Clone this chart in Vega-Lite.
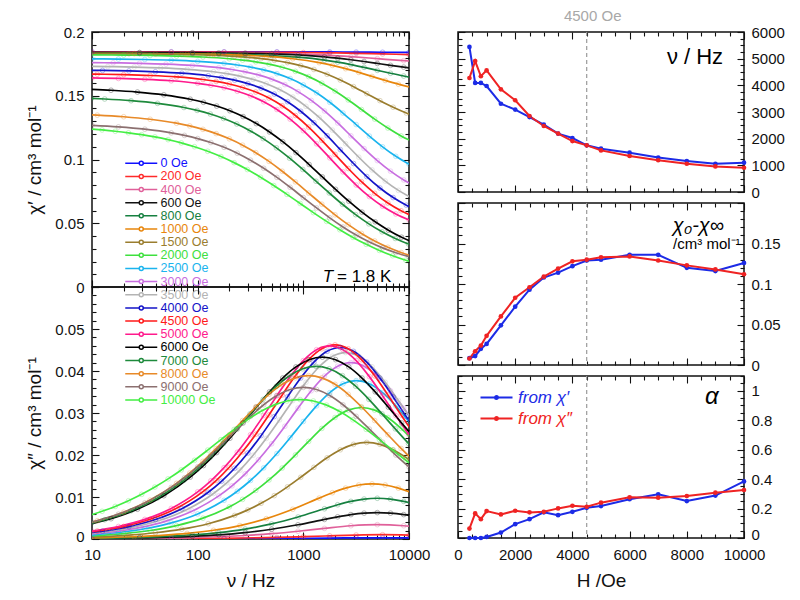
{
"$schema":"https://vega.github.io/schema/vega-lite/v6.json",
"background":"white",
"padding":{"left":25,"top":8,"right":4,"bottom":4},
"config":{
 "font":"Liberation Sans",
 "view":{"stroke":"#111","strokeWidth":1.5},
 "axis":{"domain":false,"grid":false,"tickColor":"#111","tickWidth":1.1,"labelFont":"Liberation Sans","labelFontSize":15,"labelColor":"#111","titleFont":"Liberation Sans","titleFontSize":19,"titleFontWeight":"normal","titleColor":"#111","labelPadding":11,"labelFlush":false,"labelOverlap":false},
 "text":{"font":"Liberation Sans"}
},
"datasets":{
"fit":[
{"H":"0 Oe","f":1,"a":0.1845,"b":0.000005},{"H":"0 Oe","f":1.75,"a":0.18449,"b":0.00002},{"H":"0 Oe","f":2.25,"a":0.18448,"b":0.00005},{"H":"0 Oe","f":2.75,"a":0.18445,"b":0.00011},{"H":"0 Oe","f":3.25,"a":0.18434,"b":0.00022},{"H":"0 Oe","f":3.5,"a":0.18423,"b":0.00027},{"H":"0 Oe","f":3.75,"a":0.1841,"b":0.00029},{"H":"0 Oe","f":4,"a":0.18397,"b":0.00027},
{"H":"200 Oe","f":1,"a":0.18419,"b":0.00002},{"H":"200 Oe","f":1.75,"a":0.18418,"b":0.00007},{"H":"200 Oe","f":2.25,"a":0.18414,"b":0.00016},{"H":"200 Oe","f":2.75,"a":0.18402,"b":0.00038},{"H":"200 Oe","f":3,"a":0.18388,"b":0.00055},{"H":"200 Oe","f":3.25,"a":0.18364,"b":0.00075},{"H":"200 Oe","f":3.5,"a":0.18327,"b":0.00094},{"H":"200 Oe","f":3.75,"a":0.1828,"b":0.00102},{"H":"200 Oe","f":4,"a":0.18233,"b":0.00094},
{"H":"400 Oe","f":0.95,"a":0.18378,"b":0.00006},{"H":"400 Oe","f":1.45,"a":0.18375,"b":0.00014},{"H":"400 Oe","f":1.95,"a":0.18367,"b":0.00035},{"H":"400 Oe","f":2.45,"a":0.18344,"b":0.00083},{"H":"400 Oe","f":2.7,"a":0.18318,"b":0.00126},{"H":"400 Oe","f":2.95,"a":0.18271,"b":0.00184},{"H":"400 Oe","f":3.2,"a":0.18192,"b":0.00253},{"H":"400 Oe","f":3.45,"a":0.18068,"b":0.00316},{"H":"400 Oe","f":3.7,"a":0.1791,"b":0.00342},{"H":"400 Oe","f":3.95,"a":0.17752,"b":0.00316},{"H":"400 Oe","f":4.075,"a":0.17685,"b":0.00287},
{"H":"600 Oe","f":0.95,"a":0.18397,"b":0.000103},{"H":"600 Oe","f":1.45,"a":0.18391,"b":0.000258},{"H":"600 Oe","f":1.95,"a":0.18377,"b":0.000638},{"H":"600 Oe","f":2.2,"a":0.18361,"b":0.000995},{"H":"600 Oe","f":2.45,"a":0.18334,"b":0.001535},{"H":"600 Oe","f":2.7,"a":0.18286,"b":0.002322},{"H":"600 Oe","f":2.95,"a":0.182,"b":0.003392},{"H":"600 Oe","f":3.2,"a":0.18053,"b":0.004664},{"H":"600 Oe","f":3.325,"a":0.1795,"b":0.005283},{"H":"600 Oe","f":3.45,"a":0.17826,"b":0.005806},{"H":"600 Oe","f":3.575,"a":0.17685,"b":0.006159},{"H":"600 Oe","f":3.7,"a":0.17535,"b":0.006285},{"H":"600 Oe","f":3.825,"a":0.17385,"b":0.006159},{"H":"600 Oe","f":3.95,"a":0.17244,"b":0.005806},{"H":"600 Oe","f":4.075,"a":0.1712,"b":0.005283},
{"H":"800 Oe","f":0.95,"a":0.18325,"b":0.00016},{"H":"800 Oe","f":1.45,"a":0.18316,"b":0.000398},{"H":"800 Oe","f":1.95,"a":0.18294,"b":0.000985},{"H":"800 Oe","f":2.2,"a":0.1827,"b":0.001536},{"H":"800 Oe","f":2.45,"a":0.18228,"b":0.002369},{"H":"800 Oe","f":2.7,"a":0.18154,"b":0.003583},{"H":"800 Oe","f":2.95,"a":0.18022,"b":0.005235},{"H":"800 Oe","f":3.2,"a":0.17795,"b":0.007198},{"H":"800 Oe","f":3.325,"a":0.17635,"b":0.008153},{"H":"800 Oe","f":3.45,"a":0.17444,"b":0.008961},{"H":"800 Oe","f":3.575,"a":0.17227,"b":0.009506},{"H":"800 Oe","f":3.7,"a":0.16995,"b":0.009699},{"H":"800 Oe","f":3.825,"a":0.16763,"b":0.009506},{"H":"800 Oe","f":3.95,"a":0.16546,"b":0.008961},{"H":"800 Oe","f":4.075,"a":0.16355,"b":0.008153},
{"H":"1000 Oe","f":0.9,"a":0.18313,"b":0.000216},{"H":"1000 Oe","f":1.4,"a":0.18302,"b":0.000539},{"H":"1000 Oe","f":1.9,"a":0.18271,"b":0.001332},{"H":"1000 Oe","f":2.15,"a":0.18239,"b":0.002077},{"H":"1000 Oe","f":2.4,"a":0.18182,"b":0.003203},{"H":"1000 Oe","f":2.65,"a":0.18082,"b":0.004845},{"H":"1000 Oe","f":2.9,"a":0.17903,"b":0.007078},{"H":"1000 Oe","f":3.15,"a":0.17596,"b":0.009731},{"H":"1000 Oe","f":3.275,"a":0.17381,"b":0.011024},{"H":"1000 Oe","f":3.4,"a":0.17123,"b":0.012115},{"H":"1000 Oe","f":3.525,"a":0.16829,"b":0.012853},{"H":"1000 Oe","f":3.65,"a":0.16515,"b":0.013114},{"H":"1000 Oe","f":3.775,"a":0.16201,"b":0.012853},{"H":"1000 Oe","f":3.9,"a":0.15907,"b":0.012115},{"H":"1000 Oe","f":4.025,"a":0.15649,"b":0.011024},
{"H":"1500 Oe","f":0.975,"a":0.18314,"b":0.000476},{"H":"1500 Oe","f":1.35,"a":0.18298,"b":0.000944},{"H":"1500 Oe","f":1.6,"a":0.18278,"b":0.001488},{"H":"1500 Oe","f":1.85,"a":0.18244,"b":0.002336},{"H":"1500 Oe","f":2.1,"a":0.18188,"b":0.003642},{"H":"1500 Oe","f":2.35,"a":0.18088,"b":0.005617},{"H":"1500 Oe","f":2.475,"a":0.18013,"b":0.00693},{"H":"1500 Oe","f":2.6,"a":0.17912,"b":0.008496},{"H":"1500 Oe","f":2.725,"a":0.17778,"b":0.010327},{"H":"1500 Oe","f":2.85,"a":0.17599,"b":0.012412},{"H":"1500 Oe","f":2.975,"a":0.17364,"b":0.014696},{"H":"1500 Oe","f":3.1,"a":0.17061,"b":0.017064},{"H":"1500 Oe","f":3.225,"a":0.16683,"b":0.01933},{"H":"1500 Oe","f":3.35,"a":0.1623,"b":0.021243},{"H":"1500 Oe","f":3.475,"a":0.15715,"b":0.022537},{"H":"1500 Oe","f":3.6,"a":0.15165,"b":0.022995},{"H":"1500 Oe","f":3.725,"a":0.14615,"b":0.022537},{"H":"1500 Oe","f":3.85,"a":0.141,"b":0.021243},{"H":"1500 Oe","f":3.975,"a":0.13647,"b":0.01933},{"H":"1500 Oe","f":4.1,"a":0.13269,"b":0.017064},
{"H":"2000 Oe","f":0.925,"a":0.18208,"b":0.000648},{"H":"2000 Oe","f":1.3,"a":0.18186,"b":0.001286},{"H":"2000 Oe","f":1.55,"a":0.18159,"b":0.002027},{"H":"2000 Oe","f":1.8,"a":0.18113,"b":0.003181},{"H":"2000 Oe","f":2.05,"a":0.1804,"b":0.00496},{"H":"2000 Oe","f":2.3,"a":0.17901,"b":0.007649},{"H":"2000 Oe","f":2.425,"a":0.17798,"b":0.009437},{"H":"2000 Oe","f":2.55,"a":0.17661,"b":0.011569},{"H":"2000 Oe","f":2.675,"a":0.1748,"b":0.014064},{"H":"2000 Oe","f":2.8,"a":0.17234,"b":0.016902},{"H":"2000 Oe","f":2.925,"a":0.16914,"b":0.020012},{"H":"2000 Oe","f":3.05,"a":0.16502,"b":0.023237},{"H":"2000 Oe","f":3.175,"a":0.15988,"b":0.026323},{"H":"2000 Oe","f":3.3,"a":0.15371,"b":0.028929},{"H":"2000 Oe","f":3.425,"a":0.1467,"b":0.03069},{"H":"2000 Oe","f":3.55,"a":0.1392,"b":0.031314},{"H":"2000 Oe","f":3.675,"a":0.1317,"b":0.03069},{"H":"2000 Oe","f":3.8,"a":0.12469,"b":0.028929},{"H":"2000 Oe","f":3.925,"a":0.11852,"b":0.026323},{"H":"2000 Oe","f":4.05,"a":0.11338,"b":0.023237},
{"H":"2500 Oe","f":1,"a":0.17897,"b":0.000981},{"H":"2500 Oe","f":1.25,"a":0.17877,"b":0.001549},{"H":"2500 Oe","f":1.5,"a":0.17844,"b":0.00244},{"H":"2500 Oe","f":1.75,"a":0.1779,"b":0.00383},{"H":"2500 Oe","f":2,"a":0.17696,"b":0.005973},{"H":"2500 Oe","f":2.25,"a":0.17534,"b":0.00921},{"H":"2500 Oe","f":2.375,"a":0.1741,"b":0.011364},{"H":"2500 Oe","f":2.5,"a":0.17245,"b":0.013931},{"H":"2500 Oe","f":2.625,"a":0.17024,"b":0.016935},{"H":"2500 Oe","f":2.75,"a":0.16731,"b":0.020353},{"H":"2500 Oe","f":2.875,"a":0.16346,"b":0.024098},{"H":"2500 Oe","f":3,"a":0.1585,"b":0.027981},{"H":"2500 Oe","f":3.125,"a":0.1523,"b":0.031697},{"H":"2500 Oe","f":3.25,"a":0.14487,"b":0.034835},{"H":"2500 Oe","f":3.375,"a":0.13643,"b":0.036956},{"H":"2500 Oe","f":3.5,"a":0.1274,"b":0.037707},{"H":"2500 Oe","f":3.625,"a":0.11837,"b":0.036956},{"H":"2500 Oe","f":3.75,"a":0.10993,"b":0.034835},{"H":"2500 Oe","f":3.875,"a":0.1025,"b":0.031697},{"H":"2500 Oe","f":4,"a":0.0963,"b":0.027981},
{"H":"3000 Oe","f":0.95,"a":0.17603,"b":0.001092},{"H":"3000 Oe","f":1.2,"a":0.17581,"b":0.001725},{"H":"3000 Oe","f":1.45,"a":0.17545,"b":0.002718},{"H":"3000 Oe","f":1.7,"a":0.17484,"b":0.004266},{"H":"3000 Oe","f":1.95,"a":0.1738,"b":0.006652},{"H":"3000 Oe","f":2.2,"a":0.17199,"b":0.010257},{"H":"3000 Oe","f":2.325,"a":0.17061,"b":0.012656},{"H":"3000 Oe","f":2.45,"a":0.16877,"b":0.015515},{"H":"3000 Oe","f":2.575,"a":0.16632,"b":0.01886},{"H":"3000 Oe","f":2.7,"a":0.16305,"b":0.022667},{"H":"3000 Oe","f":2.825,"a":0.15876,"b":0.026838},{"H":"3000 Oe","f":2.95,"a":0.15323,"b":0.031162},{"H":"3000 Oe","f":3.075,"a":0.14633,"b":0.035301},{"H":"3000 Oe","f":3.2,"a":0.13806,"b":0.038795},{"H":"3000 Oe","f":3.325,"a":0.12865,"b":0.041157},{"H":"3000 Oe","f":3.45,"a":0.1186,"b":0.041994},{"H":"3000 Oe","f":3.575,"a":0.10855,"b":0.041157},{"H":"3000 Oe","f":3.7,"a":0.09914,"b":0.038795},{"H":"3000 Oe","f":3.825,"a":0.09087,"b":0.035301},{"H":"3000 Oe","f":3.95,"a":0.08397,"b":0.031162},{"H":"3000 Oe","f":4.075,"a":0.07844,"b":0.026838},
{"H":"3500 Oe","f":0.9,"a":0.17311,"b":0.001155},{"H":"3500 Oe","f":1.15,"a":0.17288,"b":0.001823},{"H":"3500 Oe","f":1.4,"a":0.17249,"b":0.002873},{"H":"3500 Oe","f":1.65,"a":0.17185,"b":0.004509},{"H":"3500 Oe","f":1.9,"a":0.17075,"b":0.007031},{"H":"3500 Oe","f":2.15,"a":0.16884,"b":0.010843},{"H":"3500 Oe","f":2.275,"a":0.16738,"b":0.013378},{"H":"3500 Oe","f":2.4,"a":0.16544,"b":0.0164},{"H":"3500 Oe","f":2.525,"a":0.16284,"b":0.019937},{"H":"3500 Oe","f":2.65,"a":0.15939,"b":0.023961},{"H":"3500 Oe","f":2.775,"a":0.15485,"b":0.02837},{"H":"3500 Oe","f":2.9,"a":0.14901,"b":0.032941},{"H":"3500 Oe","f":3.025,"a":0.14171,"b":0.037316},{"H":"3500 Oe","f":3.15,"a":0.13297,"b":0.04101},{"H":"3500 Oe","f":3.275,"a":0.12303,"b":0.043507},{"H":"3500 Oe","f":3.4,"a":0.1124,"b":0.044392},{"H":"3500 Oe","f":3.525,"a":0.10177,"b":0.043507},{"H":"3500 Oe","f":3.65,"a":0.09183,"b":0.04101},{"H":"3500 Oe","f":3.775,"a":0.08309,"b":0.037316},{"H":"3500 Oe","f":3.9,"a":0.07579,"b":0.032941},{"H":"3500 Oe","f":4.025,"a":0.06995,"b":0.02837},
{"H":"4000 Oe","f":0.975,"a":0.17,"b":0.001491},{"H":"4000 Oe","f":1.1,"a":0.16986,"b":0.001872},{"H":"4000 Oe","f":1.35,"a":0.16946,"b":0.00295},{"H":"4000 Oe","f":1.6,"a":0.1688,"b":0.004631},{"H":"4000 Oe","f":1.85,"a":0.16768,"b":0.007221},{"H":"4000 Oe","f":2.1,"a":0.16571,"b":0.011136},{"H":"4000 Oe","f":2.225,"a":0.16422,"b":0.01374},{"H":"4000 Oe","f":2.35,"a":0.16222,"b":0.016843},{"H":"4000 Oe","f":2.475,"a":0.15955,"b":0.020475},{"H":"4000 Oe","f":2.6,"a":0.156,"b":0.024608},{"H":"4000 Oe","f":2.725,"a":0.15135,"b":0.029136},{"H":"4000 Oe","f":2.85,"a":0.14535,"b":0.033831},{"H":"4000 Oe","f":2.975,"a":0.13785,"b":0.038324},{"H":"4000 Oe","f":3.1,"a":0.12887,"b":0.042118},{"H":"4000 Oe","f":3.225,"a":0.11866,"b":0.044682},{"H":"4000 Oe","f":3.35,"a":0.10775,"b":0.04559},{"H":"4000 Oe","f":3.475,"a":0.09684,"b":0.044682},{"H":"4000 Oe","f":3.6,"a":0.08663,"b":0.042118},{"H":"4000 Oe","f":3.725,"a":0.07765,"b":0.038324},{"H":"4000 Oe","f":3.85,"a":0.07015,"b":0.033831},{"H":"4000 Oe","f":3.975,"a":0.06416,"b":0.029136},{"H":"4000 Oe","f":4.1,"a":0.0595,"b":0.024608},
{"H":"4500 Oe","f":0.925,"a":0.16709,"b":0.001511},{"H":"4500 Oe","f":1.05,"a":0.16695,"b":0.001898},{"H":"4500 Oe","f":1.3,"a":0.16655,"b":0.00299},{"H":"4500 Oe","f":1.55,"a":0.16588,"b":0.004694},{"H":"4500 Oe","f":1.8,"a":0.16474,"b":0.007319},{"H":"4500 Oe","f":2.05,"a":0.16275,"b":0.011286},{"H":"4500 Oe","f":2.175,"a":0.16123,"b":0.013926},{"H":"4500 Oe","f":2.3,"a":0.15921,"b":0.017072},{"H":"4500 Oe","f":2.425,"a":0.1565,"b":0.020753},{"H":"4500 Oe","f":2.55,"a":0.15291,"b":0.024941},{"H":"4500 Oe","f":2.675,"a":0.14819,"b":0.029531},{"H":"4500 Oe","f":2.8,"a":0.14211,"b":0.034289},{"H":"4500 Oe","f":2.925,"a":0.13451,"b":0.038843},{"H":"4500 Oe","f":3.05,"a":0.12541,"b":0.042688},{"H":"4500 Oe","f":3.175,"a":0.11506,"b":0.045287},{"H":"4500 Oe","f":3.3,"a":0.104,"b":0.046208},{"H":"4500 Oe","f":3.425,"a":0.09294,"b":0.045287},{"H":"4500 Oe","f":3.55,"a":0.08259,"b":0.042688},{"H":"4500 Oe","f":3.675,"a":0.07349,"b":0.038843},{"H":"4500 Oe","f":3.8,"a":0.06589,"b":0.034289},{"H":"4500 Oe","f":3.925,"a":0.05982,"b":0.029531},{"H":"4500 Oe","f":4.05,"a":0.05509,"b":0.024941},
{"H":"5000 Oe","f":1,"a":0.16395,"b":0.001889},{"H":"5000 Oe","f":1.25,"a":0.16355,"b":0.002976},{"H":"5000 Oe","f":1.5,"a":0.16289,"b":0.004672},{"H":"5000 Oe","f":1.75,"a":0.16175,"b":0.007285},{"H":"5000 Oe","f":2,"a":0.15977,"b":0.011233},{"H":"5000 Oe","f":2.125,"a":0.15826,"b":0.01386},{"H":"5000 Oe","f":2.25,"a":0.15625,"b":0.016991},{"H":"5000 Oe","f":2.375,"a":0.15356,"b":0.020655},{"H":"5000 Oe","f":2.5,"a":0.14998,"b":0.024824},{"H":"5000 Oe","f":2.625,"a":0.14528,"b":0.029391},{"H":"5000 Oe","f":2.75,"a":0.13923,"b":0.034128},{"H":"5000 Oe","f":2.875,"a":0.13167,"b":0.03866},{"H":"5000 Oe","f":3,"a":0.12261,"b":0.042487},{"H":"5000 Oe","f":3.125,"a":0.11231,"b":0.045073},{"H":"5000 Oe","f":3.25,"a":0.1013,"b":0.04599},{"H":"5000 Oe","f":3.375,"a":0.09029,"b":0.045073},{"H":"5000 Oe","f":3.5,"a":0.07999,"b":0.042487},{"H":"5000 Oe","f":3.625,"a":0.07093,"b":0.03866},{"H":"5000 Oe","f":3.75,"a":0.06338,"b":0.034128},{"H":"5000 Oe","f":3.875,"a":0.05732,"b":0.029391},{"H":"5000 Oe","f":4,"a":0.05262,"b":0.024824},
{"H":"6000 Oe","f":0.93,"a":0.15524,"b":0.003268},{"H":"6000 Oe","f":1.18,"a":0.15432,"b":0.00483},{"H":"6000 Oe","f":1.43,"a":0.15291,"b":0.00709},{"H":"6000 Oe","f":1.68,"a":0.15072,"b":0.010305},{"H":"6000 Oe","f":1.93,"a":0.14728,"b":0.014742},{"H":"6000 Oe","f":2.055,"a":0.14489,"b":0.017482},{"H":"6000 Oe","f":2.18,"a":0.14191,"b":0.020575},{"H":"6000 Oe","f":2.305,"a":0.13821,"b":0.023984},{"H":"6000 Oe","f":2.43,"a":0.13366,"b":0.027633},{"H":"6000 Oe","f":2.555,"a":0.12815,"b":0.031384},{"H":"6000 Oe","f":2.68,"a":0.12158,"b":0.035037},{"H":"6000 Oe","f":2.805,"a":0.11396,"b":0.03833},{"H":"6000 Oe","f":2.93,"a":0.10539,"b":0.040976},{"H":"6000 Oe","f":3.055,"a":0.09607,"b":0.042697},{"H":"6000 Oe","f":3.18,"a":0.08635,"b":0.043294},{"H":"6000 Oe","f":3.305,"a":0.07663,"b":0.042697},{"H":"6000 Oe","f":3.43,"a":0.06731,"b":0.040976},{"H":"6000 Oe","f":3.555,"a":0.05873,"b":0.03833},{"H":"6000 Oe","f":3.68,"a":0.05112,"b":0.035037},{"H":"6000 Oe","f":3.805,"a":0.04455,"b":0.031384},{"H":"6000 Oe","f":3.93,"a":0.03904,"b":0.027633},{"H":"6000 Oe","f":4.055,"a":0.03449,"b":0.023984},
{"H":"7000 Oe","f":0.995,"a":0.14794,"b":0.003774},{"H":"7000 Oe","f":1.12,"a":0.14746,"b":0.004584},{"H":"7000 Oe","f":1.37,"a":0.14612,"b":0.006729},{"H":"7000 Oe","f":1.62,"a":0.14404,"b":0.00978},{"H":"7000 Oe","f":1.87,"a":0.14078,"b":0.013991},{"H":"7000 Oe","f":1.995,"a":0.13851,"b":0.016591},{"H":"7000 Oe","f":2.12,"a":0.13568,"b":0.019526},{"H":"7000 Oe","f":2.245,"a":0.13217,"b":0.022762},{"H":"7000 Oe","f":2.37,"a":0.12785,"b":0.026225},{"H":"7000 Oe","f":2.495,"a":0.12262,"b":0.029785},{"H":"7000 Oe","f":2.62,"a":0.11639,"b":0.033251},{"H":"7000 Oe","f":2.745,"a":0.10916,"b":0.036377},{"H":"7000 Oe","f":2.87,"a":0.10102,"b":0.038888},{"H":"7000 Oe","f":2.995,"a":0.09217,"b":0.040521},{"H":"7000 Oe","f":3.12,"a":0.08295,"b":0.041088},{"H":"7000 Oe","f":3.245,"a":0.07373,"b":0.040521},{"H":"7000 Oe","f":3.37,"a":0.06488,"b":0.038888},{"H":"7000 Oe","f":3.495,"a":0.05674,"b":0.036377},{"H":"7000 Oe","f":3.62,"a":0.04951,"b":0.033251},{"H":"7000 Oe","f":3.745,"a":0.04328,"b":0.029785},{"H":"7000 Oe","f":3.87,"a":0.03805,"b":0.026225},{"H":"7000 Oe","f":3.995,"a":0.03373,"b":0.022762},{"H":"7000 Oe","f":4.12,"a":0.03022,"b":0.019526},
{"H":"8000 Oe","f":0.925,"a":0.13525,"b":0.003574},{"H":"8000 Oe","f":1.05,"a":0.1348,"b":0.004341},{"H":"8000 Oe","f":1.3,"a":0.13353,"b":0.006373},{"H":"8000 Oe","f":1.55,"a":0.13155,"b":0.009262},{"H":"8000 Oe","f":1.8,"a":0.12847,"b":0.01325},{"H":"8000 Oe","f":1.925,"a":0.12632,"b":0.015712},{"H":"8000 Oe","f":2.05,"a":0.12364,"b":0.018492},{"H":"8000 Oe","f":2.175,"a":0.12031,"b":0.021557},{"H":"8000 Oe","f":2.3,"a":0.11622,"b":0.024836},{"H":"8000 Oe","f":2.425,"a":0.11127,"b":0.028208},{"H":"8000 Oe","f":2.55,"a":0.10537,"b":0.031491},{"H":"8000 Oe","f":2.675,"a":0.09852,"b":0.034451},{"H":"8000 Oe","f":2.8,"a":0.09081,"b":0.036829},{"H":"8000 Oe","f":2.925,"a":0.08244,"b":0.038376},{"H":"8000 Oe","f":3.05,"a":0.0737,"b":0.038913},{"H":"8000 Oe","f":3.175,"a":0.06496,"b":0.038376},{"H":"8000 Oe","f":3.3,"a":0.05659,"b":0.036829},{"H":"8000 Oe","f":3.425,"a":0.04888,"b":0.034451},{"H":"8000 Oe","f":3.55,"a":0.04203,"b":0.031491},{"H":"8000 Oe","f":3.675,"a":0.03613,"b":0.028208},{"H":"8000 Oe","f":3.8,"a":0.03118,"b":0.024836},{"H":"8000 Oe","f":3.925,"a":0.02709,"b":0.021557},{"H":"8000 Oe","f":4.05,"a":0.02376,"b":0.018492},
{"H":"9000 Oe","f":1,"a":0.12677,"b":0.004026},{"H":"9000 Oe","f":1.25,"a":0.12559,"b":0.005911},{"H":"9000 Oe","f":1.5,"a":0.12376,"b":0.008591},{"H":"9000 Oe","f":1.75,"a":0.1209,"b":0.01229},{"H":"9000 Oe","f":1.875,"a":0.11891,"b":0.014574},{"H":"9000 Oe","f":2,"a":0.11642,"b":0.017153},{"H":"9000 Oe","f":2.125,"a":0.11334,"b":0.019995},{"H":"9000 Oe","f":2.25,"a":0.10954,"b":0.023037},{"H":"9000 Oe","f":2.375,"a":0.10495,"b":0.026165},{"H":"9000 Oe","f":2.5,"a":0.09947,"b":0.02921},{"H":"9000 Oe","f":2.625,"a":0.09312,"b":0.031956},{"H":"9000 Oe","f":2.75,"a":0.08597,"b":0.034161},{"H":"9000 Oe","f":2.875,"a":0.0782,"b":0.035596},{"H":"9000 Oe","f":3,"a":0.0701,"b":0.036094},{"H":"9000 Oe","f":3.125,"a":0.062,"b":0.035596},{"H":"9000 Oe","f":3.25,"a":0.05423,"b":0.034161},{"H":"9000 Oe","f":3.375,"a":0.04708,"b":0.031956},{"H":"9000 Oe","f":3.5,"a":0.04073,"b":0.02921},{"H":"9000 Oe","f":3.625,"a":0.03526,"b":0.026165},{"H":"9000 Oe","f":3.75,"a":0.03066,"b":0.023037},{"H":"9000 Oe","f":3.875,"a":0.02687,"b":0.019995},{"H":"9000 Oe","f":4,"a":0.02378,"b":0.017153},
{"H":"10000 Oe","f":0.97,"a":0.12401,"b":0.005588},{"H":"10000 Oe","f":1.095,"a":0.12317,"b":0.006594},{"H":"10000 Oe","f":1.22,"a":0.12216,"b":0.007758},{"H":"10000 Oe","f":1.345,"a":0.12093,"b":0.0091},{"H":"10000 Oe","f":1.47,"a":0.11946,"b":0.010634},{"H":"10000 Oe","f":1.595,"a":0.1177,"b":0.012369},{"H":"10000 Oe","f":1.72,"a":0.11557,"b":0.014308},{"H":"10000 Oe","f":1.845,"a":0.11304,"b":0.016442},{"H":"10000 Oe","f":1.97,"a":0.11002,"b":0.018746},{"H":"10000 Oe","f":2.095,"a":0.10647,"b":0.021174},{"H":"10000 Oe","f":2.22,"a":0.10232,"b":0.023655},{"H":"10000 Oe","f":2.345,"a":0.09754,"b":0.026096},{"H":"10000 Oe","f":2.47,"a":0.09212,"b":0.028372},{"H":"10000 Oe","f":2.595,"a":0.08609,"b":0.030347},{"H":"10000 Oe","f":2.72,"a":0.07955,"b":0.031884},{"H":"10000 Oe","f":2.845,"a":0.07263,"b":0.032862},{"H":"10000 Oe","f":2.97,"a":0.0655,"b":0.033198},{"H":"10000 Oe","f":3.095,"a":0.05837,"b":0.032862},{"H":"10000 Oe","f":3.22,"a":0.05145,"b":0.031884},{"H":"10000 Oe","f":3.345,"a":0.04491,"b":0.030347},{"H":"10000 Oe","f":3.47,"a":0.03888,"b":0.028372},{"H":"10000 Oe","f":3.595,"a":0.03346,"b":0.026096},{"H":"10000 Oe","f":3.72,"a":0.02868,"b":0.023655},{"H":"10000 Oe","f":3.845,"a":0.02453,"b":0.021174},{"H":"10000 Oe","f":3.97,"a":0.02098,"b":0.018746},{"H":"10000 Oe","f":4.095,"a":0.01796,"b":0.016442}
],
"ac":[
{"H":400,"s":"from χ′","nu":5440,"d":0.0084,"al":0},{"H":600,"s":"from χ′","nu":4090,"d":0.011,"al":0},{"H":800,"s":"from χ′","nu":4090,"d":0.02,"al":0},{"H":1000,"s":"from χ′","nu":3975,"d":0.026,"al":0.007},{"H":1500,"s":"from χ′","nu":3310,"d":0.049,"al":0.037},{"H":2000,"s":"from χ′","nu":3090,"d":0.072,"al":0.094},{"H":2500,"s":"from χ′","nu":2810,"d":0.093,"al":0.128},{"H":3000,"s":"from χ′","nu":2525,"d":0.108,"al":0.174},{"H":3500,"s":"from χ′","nu":2190,"d":0.114,"al":0.155},{"H":4000,"s":"from χ′","nu":2025,"d":0.122,"al":0.178},{"H":4500,"s":"from χ′","nu":1750,"d":0.129,"al":0.205},{"H":5000,"s":"from χ′","nu":1625,"d":0.13,"al":0.217},{"H":6000,"s":"from χ′","nu":1475,"d":0.136,"al":0.263},{"H":7000,"s":"from χ′","nu":1290,"d":0.136,"al":0.297},{"H":8000,"s":"from χ′","nu":1160,"d":0.12,"al":0.251},{"H":9000,"s":"from χ′","nu":1060,"d":0.116,"al":0.288},{"H":10000,"s":"from χ′","nu":1100,"d":0.126,"al":0.384},
{"H":400,"s":"from χ″","nu":4275,"d":0.008,"al":0.064},{"H":600,"s":"from χ″","nu":4910,"d":0.017,"al":0.167},{"H":800,"s":"from χ″","nu":4340,"d":0.024,"al":0.128},{"H":1000,"s":"from χ″","nu":4560,"d":0.036,"al":0.183},{"H":1500,"s":"from χ″","nu":3850,"d":0.06,"al":0.16},{"H":2000,"s":"from χ″","nu":3440,"d":0.083,"al":0.185},{"H":2500,"s":"from χ″","nu":2850,"d":0.096,"al":0.174},{"H":3000,"s":"from χ″","nu":2475,"d":0.109,"al":0.178},{"H":3500,"s":"from χ″","nu":2190,"d":0.119,"al":0.201},{"H":4000,"s":"from χ″","nu":1910,"d":0.128,"al":0.219},{"H":4500,"s":"from χ″","nu":1750,"d":0.13,"al":0.212},{"H":5000,"s":"from χ″","nu":1560,"d":0.133,"al":0.24},{"H":6000,"s":"from χ″","nu":1350,"d":0.134,"al":0.276},{"H":7000,"s":"from χ″","nu":1190,"d":0.129,"al":0.274},{"H":8000,"s":"from χ″","nu":1060,"d":0.123,"al":0.285},{"H":9000,"s":"from χ″","nu":960,"d":0.118,"al":0.308},{"H":10000,"s":"from χ″","nu":910,"d":0.112,"al":0.326}
]
},
"hconcat":[
 {"vconcat":[
  {"width":317,"height":255,
   "layer":[
    {"data":{"name":"fit"},"mark":{"type":"line","strokeWidth":1.7,"interpolate":"monotone","clip":true},
     "encoding":{
      "x":{"field":"f","type":"quantitative","scale":{"domain":[1,4],"nice":false,"zero":false},
           "axis":{"orient":"bottom","title":null,"labels":false,"values":[1,1.30103,1.47712,1.60206,1.69897,1.77815,1.8451,1.90309,1.95424,2,2.30103,2.47712,2.60206,2.69897,2.77815,2.8451,2.90309,2.95424,3,3.30103,3.47712,3.60206,3.69897,3.77815,3.8451,3.90309,3.95424,4],"tickSize":{"condition":{"test":"datum.value % 1 === 0","value":-7},"value":-4}}},
      "y":{"field":"a","type":"quantitative","scale":{"domain":[0,0.2],"nice":false,"zero":false},
           "axis":{"orient":"left","title":"χ′ / cm³ mol⁻¹","titlePadding":10,"labelPadding":15,"values":[0,0.01,0.02,0.03,0.04,0.05,0.06,0.07,0.08,0.09,0.1,0.11,0.12,0.13,0.14,0.15,0.16,0.17,0.18,0.19,0.2],"labelExpr":"abs(datum.value*20-round(datum.value*20))<0.001 ? format(datum.value, '~g') : ''","tickSize":{"condition":{"test":"abs(datum.value*20-round(datum.value*20))<0.001","value":-7},"value":-4}}},
      "color":{"field":"H","type":"nominal",
        "scale":{"domain":["0 Oe","200 Oe","400 Oe","600 Oe","800 Oe","1000 Oe","1500 Oe","2000 Oe","2500 Oe","3000 Oe","3500 Oe","4000 Oe","4500 Oe","5000 Oe","6000 Oe","7000 Oe","8000 Oe","9000 Oe","10000 Oe"],
                 "range":["#1010ff","#ff2a2a","#e0609a","#111111","#168040","#e8860c","#9a7d2e","#3ee03e","#1ab4ee","#c86ee0","#b4b4b4","#1414c8","#ff1a1a","#ff1a8c","#000000","#1e8a3c","#e88a28","#8c7070","#44ee44"]},
        "legend":{"orient":"none","legendX":32,"legendY":125,"title":null,
          "symbolType":"M-1,0H1.8M2.6,0A0.4,0.4 0 1,1 1.8,0A0.4,0.4 0 1,1 2.6,0M2.6,0H5.4",
          "symbolSize":100,"symbolStrokeWidth":1.5,"symbolFillColor":"white","labelFontSize":12.5,"labelOffset":24,"rowPadding":0.15,"labelLimit":200,
          "encode":{"labels":{"update":{"fill":{"signal":"['#1010ff','#ff2a2a','#e0609a','#111111','#168040','#e8860c','#9a7d2e','#3ee03e','#1ab4ee','#c86ee0','#b4b4b4','#1414c8','#ff1a1a','#ff1a8c','#000000','#1e8a3c','#e88a28','#8c7070','#44ee44'][datum.index]"}}}}}}
     }},
    {"data":{"name":"fit"},"mark":{"type":"point","shape":"circle","filled":false,"size":22,"strokeWidth":0.7,"opacity":0.45,"clip":true},
     "encoding":{
      "x":{"field":"f","type":"quantitative","axis":{"orient":"top","title":null,"labels":false,"values":[1,1.30103,1.47712,1.60206,1.69897,1.77815,1.8451,1.90309,1.95424,2,2.30103,2.47712,2.60206,2.69897,2.77815,2.8451,2.90309,2.95424,3,3.30103,3.47712,3.60206,3.69897,3.77815,3.8451,3.90309,3.95424,4],"tickSize":{"condition":{"test":"datum.value % 1 === 0","value":-7},"value":-4}}},
      "y":{"field":"a","type":"quantitative","axis":{"orient":"right","title":null,"labels":false,"values":[0,0.01,0.02,0.03,0.04,0.05,0.06,0.07,0.08,0.09,0.1,0.11,0.12,0.13,0.14,0.15,0.16,0.17,0.18,0.19,0.2],"tickSize":{"condition":{"test":"abs(datum.value*20-round(datum.value*20))<0.001","value":-7},"value":-4}}},
      "color":{"field":"H","type":"nominal"}
     }},
    {"data":{"values":[{}]},"mark":{"type":"text","text":"T","fontStyle":"italic","fontSize":17,"align":"right","baseline":"middle"},
     "encoding":{"x":{"datum":3.281,"type":"quantitative","axis":null},"y":{"datum":0.0078,"type":"quantitative","axis":null}}},
    {"data":{"values":[{}]},"mark":{"type":"text","text":"= 1.8 K","fontSize":17,"align":"left","baseline":"middle","dx":4},
     "encoding":{"x":{"datum":3.281,"type":"quantitative","axis":null},"y":{"datum":0.0078,"type":"quantitative","axis":null}}}
   ],
   "resolve":{"axis":{"x":"independent","y":"independent"}}
  },
  {"width":317,"height":252,
   "layer":[
    {"data":{"name":"fit"},"mark":{"type":"line","strokeWidth":1.7,"interpolate":"monotone","clip":true},
     "encoding":{
      "x":{"field":"f","type":"quantitative","scale":{"domain":[1,4],"nice":false,"zero":false},
           "axis":{"orient":"bottom","title":"ν / Hz","titlePadding":6,"labelPadding":15,"values":[1,1.30103,1.47712,1.60206,1.69897,1.77815,1.8451,1.90309,1.95424,2,2.30103,2.47712,2.60206,2.69897,2.77815,2.8451,2.90309,2.95424,3,3.30103,3.47712,3.60206,3.69897,3.77815,3.8451,3.90309,3.95424,4],"labelExpr":"datum.value % 1 === 0 ? format(pow(10, datum.value), 'd') : ''","tickSize":{"condition":{"test":"datum.value % 1 === 0","value":-7},"value":-4}}},
      "y":{"field":"b","type":"quantitative","scale":{"domain":[0,0.06],"nice":false,"zero":false},
           "axis":{"orient":"left","title":"χ″ / cm³ mol⁻¹","titlePadding":10,"labelPadding":15,"values":[0,0.002,0.004,0.006,0.008,0.01,0.012,0.014,0.016,0.018,0.02,0.022,0.024,0.026,0.028,0.03,0.032,0.034,0.036,0.038,0.04,0.042,0.044,0.046,0.048,0.05,0.052,0.054,0.056,0.058,0.06],"labelExpr":"abs(datum.value*100-round(datum.value*100))<0.001 && datum.value < 0.055 ? format(datum.value, '~g') : ''","labelOffset":{"condition":{"test":"datum.value === 0","value":-3},"value":0},"tickSize":{"condition":{"test":"abs(datum.value*100-round(datum.value*100))<0.001","value":-7},"value":-4}}},
      "color":{"field":"H","type":"nominal",
        "scale":{"domain":["0 Oe","200 Oe","400 Oe","600 Oe","800 Oe","1000 Oe","1500 Oe","2000 Oe","2500 Oe","3000 Oe","3500 Oe","4000 Oe","4500 Oe","5000 Oe","6000 Oe","7000 Oe","8000 Oe","9000 Oe","10000 Oe"],
                 "range":["#1010ff","#ff2a2a","#e0609a","#111111","#168040","#e8860c","#9a7d2e","#3ee03e","#1ab4ee","#c86ee0","#b4b4b4","#1414c8","#ff1a1a","#ff1a8c","#000000","#1e8a3c","#e88a28","#8c7070","#44ee44"]},
        "legend":null}
     }},
    {"data":{"name":"fit"},"mark":{"type":"point","shape":"circle","filled":false,"size":22,"strokeWidth":0.7,"opacity":0.45,"clip":true},
     "encoding":{
      "x":{"field":"f","type":"quantitative","axis":{"orient":"top","title":null,"labels":false,"values":[1,1.30103,1.47712,1.60206,1.69897,1.77815,1.8451,1.90309,1.95424,2,2.30103,2.47712,2.60206,2.69897,2.77815,2.8451,2.90309,2.95424,3,3.30103,3.47712,3.60206,3.69897,3.77815,3.8451,3.90309,3.95424,4],"tickSize":{"condition":{"test":"datum.value % 1 === 0","value":-7},"value":-4}}},
      "y":{"field":"b","type":"quantitative","axis":{"orient":"right","title":null,"labels":false,"values":[0,0.002,0.004,0.006,0.008,0.01,0.012,0.014,0.016,0.018,0.02,0.022,0.024,0.026,0.028,0.03,0.032,0.034,0.036,0.038,0.04,0.042,0.044,0.046,0.048,0.05,0.052,0.054,0.056,0.058,0.06],"tickSize":{"condition":{"test":"abs(datum.value*100-round(datum.value*100))<0.001","value":-7},"value":-4}}},
      "color":{"field":"H","type":"nominal","legend":null}
     }}
   ],
   "resolve":{"axis":{"x":"independent","y":"independent"}}
  }
 ],"spacing":0,"bounds":"flush","resolve":{"scale":{"color":"independent"}}},
 {"vconcat":[
  {"width":286,"height":160,
   "layer":[
    {"data":{"values":[{}]},"mark":{"type":"rule","strokeDash":[4,3],"color":"#9a9a9a","strokeWidth":1.2},"encoding":{"x":{"datum":4500,"type":"quantitative","axis":null}}},
    {"data":{"name":"ac"},"mark":{"type":"line","strokeWidth":2},
     "encoding":{
      "x":{"field":"H","type":"quantitative","scale":{"domain":[0,10000],"nice":false,"zero":false},"axis":{"orient":"bottom","title":null,"labels":false,"values":[0,500,1000,1500,2000,2500,3000,3500,4000,4500,5000,5500,6000,6500,7000,7500,8000,8500,9000,9500,10000],"tickSize":{"condition":{"test":"datum.value % 2000 === 0","value":-7},"value":-4}}},
      "y":{"field":"nu","type":"quantitative","scale":{"domain":[0,6000],"nice":false},"axis":{"orient":"right","title":null,"labelPadding":14,"values":[0,250,500,750,1000,1250,1500,1750,2000,2250,2500,2750,3000,3250,3500,3750,4000,4250,4500,4750,5000,5250,5500,5750,6000],"labelExpr":"datum.value % 1000 === 0 ? format(datum.value, 'd') : ''","tickSize":{"condition":{"test":"datum.value % 1000 === 0","value":-7},"value":-4}}},
      "color":{"field":"s","type":"nominal","scale":{"domain":["from χ′","from χ″"],"range":["#1c2be6","#ef2323"]},"legend":null}
     }},
    {"data":{"name":"ac"},"mark":{"type":"point","filled":true,"size":22,"opacity":1},
     "encoding":{
      "x":{"field":"H","type":"quantitative","axis":{"orient":"top","title":null,"labels":false,"values":[0,500,1000,1500,2000,2500,3000,3500,4000,4500,5000,5500,6000,6500,7000,7500,8000,8500,9000,9500,10000],"tickSize":{"condition":{"test":"datum.value % 2000 === 0","value":-7},"value":-4}}},
      "y":{"field":"nu","type":"quantitative","axis":{"orient":"left","title":null,"labels":false,"values":[0,250,500,750,1000,1250,1500,1750,2000,2250,2500,2750,3000,3250,3500,3750,4000,4250,4500,4750,5000,5250,5500,5750,6000],"tickSize":{"condition":{"test":"datum.value % 1000 === 0","value":-7},"value":-4}}},
      "color":{"field":"s","type":"nominal","legend":null}
     }},
    {"data":{"values":[{}]},"mark":{"type":"text","text":"ν / Hz","fontSize":22,"align":"right","baseline":"middle"},
     "encoding":{"x":{"datum":9270,"type":"quantitative","axis":null},"y":{"datum":5060,"type":"quantitative","axis":null}}},
    {"data":{"values":[{}]},"mark":{"type":"text","text":"4500 Oe","fontSize":15,"color":"#a8a8a8","align":"center","baseline":"middle","dx":6,"dy":-16},
     "encoding":{"x":{"datum":4500,"type":"quantitative","axis":null},"y":{"datum":6000,"type":"quantitative","axis":null}}}
   ],
   "resolve":{"axis":{"x":"independent","y":"independent"}}
  },
  {"width":286,"height":162,
   "layer":[
    {"data":{"values":[{}]},"mark":{"type":"rule","strokeDash":[4,3],"color":"#9a9a9a","strokeWidth":1.2},"encoding":{"x":{"datum":4500,"type":"quantitative","axis":null}}},
    {"data":{"name":"ac"},"mark":{"type":"line","strokeWidth":2},
     "encoding":{
      "x":{"field":"H","type":"quantitative","scale":{"domain":[0,10000],"nice":false,"zero":false},"axis":{"orient":"bottom","title":null,"labels":false,"values":[0,500,1000,1500,2000,2500,3000,3500,4000,4500,5000,5500,6000,6500,7000,7500,8000,8500,9000,9500,10000],"tickSize":{"condition":{"test":"datum.value % 2000 === 0","value":-7},"value":-4}}},
      "y":{"field":"d","type":"quantitative","scale":{"domain":[0,0.2],"nice":false},"axis":{"orient":"right","title":null,"labelPadding":14,"values":[0,0.01,0.02,0.03,0.04,0.05,0.06,0.07,0.08,0.09,0.1,0.11,0.12,0.13,0.14,0.15,0.16,0.17,0.18,0.19,0.2],"labelExpr":"abs(datum.value*20-round(datum.value*20))<0.001 && datum.value < 0.19 ? format(datum.value, '~g') : ''","tickSize":{"condition":{"test":"abs(datum.value*20-round(datum.value*20))<0.001","value":-7},"value":-4}}},
      "color":{"field":"s","type":"nominal","scale":{"domain":["from χ′","from χ″"],"range":["#1c2be6","#ef2323"]},"legend":null}
     }},
    {"data":{"name":"ac"},"mark":{"type":"point","filled":true,"size":22,"opacity":1},
     "encoding":{
      "x":{"field":"H","type":"quantitative","axis":{"orient":"top","title":null,"labels":false,"values":[0,500,1000,1500,2000,2500,3000,3500,4000,4500,5000,5500,6000,6500,7000,7500,8000,8500,9000,9500,10000],"tickSize":{"condition":{"test":"datum.value % 2000 === 0","value":-7},"value":-4}}},
      "y":{"field":"d","type":"quantitative","axis":{"orient":"left","title":null,"labels":false,"values":[0,0.01,0.02,0.03,0.04,0.05,0.06,0.07,0.08,0.09,0.1,0.11,0.12,0.13,0.14,0.15,0.16,0.17,0.18,0.19,0.2],"tickSize":{"condition":{"test":"abs(datum.value*20-round(datum.value*20))<0.001","value":-7},"value":-4}}},
      "color":{"field":"s","type":"nominal","legend":null}
     }},
    {"data":{"values":[{}]},"mark":{"type":"text","text":"χ₀-χ∞","fontSize":20,"fontStyle":"italic","align":"right","baseline":"middle"},
     "encoding":{"x":{"datum":9300,"type":"quantitative","axis":null},"y":{"datum":0.172,"type":"quantitative","axis":null}}},
    {"data":{"values":[{}]},"mark":{"type":"text","text":"/cm³ mol⁻¹","fontSize":15,"align":"right","baseline":"middle"},
     "encoding":{"x":{"datum":9880,"type":"quantitative","axis":null},"y":{"datum":0.15,"type":"quantitative","axis":null}}}
   ],
   "resolve":{"axis":{"x":"independent","y":"independent"}}
  },
  {"width":286,"height":162,
   "layer":[
    {"data":{"values":[{}]},"mark":{"type":"rule","strokeDash":[4,3],"color":"#9a9a9a","strokeWidth":1.2},"encoding":{"x":{"datum":4500,"type":"quantitative","axis":null}}},
    {"data":{"name":"ac"},"mark":{"type":"line","strokeWidth":2},
     "encoding":{
      "x":{"field":"H","type":"quantitative","scale":{"domain":[0,10000],"nice":false,"zero":false},"axis":{"orient":"bottom","title":"H /Oe","titlePadding":6,"labelPadding":16,"values":[0,500,1000,1500,2000,2500,3000,3500,4000,4500,5000,5500,6000,6500,7000,7500,8000,8500,9000,9500,10000],"labelExpr":"datum.value % 2000 === 0 ? format(datum.value, 'd') : ''","tickSize":{"condition":{"test":"datum.value % 2000 === 0","value":-7},"value":-4}}},
      "y":{"field":"al","type":"quantitative","scale":{"domain":[0,1.1],"nice":false},"axis":{"orient":"right","title":null,"labelPadding":14,"values":[0,0.05,0.1,0.15,0.2,0.25,0.3,0.35,0.4,0.45,0.5,0.55,0.6,0.65,0.7,0.75,0.8,0.85,0.9,0.95,1,1.05,1.1],"labelExpr":"abs(datum.value*5-round(datum.value*5))<0.001 && datum.value < 1.05 ? format(datum.value, '~g') : ''","labelOffset":{"condition":{"test":"datum.value === 0","value":-4},"value":0},"tickSize":{"condition":{"test":"abs(datum.value*5-round(datum.value*5))<0.001","value":-7},"value":-4}}},
      "color":{"field":"s","type":"nominal","scale":{"domain":["from χ′","from χ″"],"range":["#1c2be6","#ef2323"]},
        "legend":{"orient":"none","legendX":19,"legendY":13,"title":null,
          "symbolType":"M-1,0H1.9M2.5,0A0.3,0.3 0 1,1 1.9,0A0.3,0.3 0 1,1 2.5,0M2.5,0H5.4",
          "symbolSize":100,"symbolStrokeWidth":2,"labelFontSize":17,"labelFontStyle":"italic","labelOffset":24,"rowPadding":3,
          "encode":{"labels":{"update":{"fill":{"signal":"['#1c2be6','#ef2323'][datum.index]"}}}}}}
     }},
    {"data":{"name":"ac"},"mark":{"type":"point","filled":true,"size":22,"opacity":1},
     "encoding":{
      "x":{"field":"H","type":"quantitative","axis":{"orient":"top","title":null,"labels":false,"values":[0,500,1000,1500,2000,2500,3000,3500,4000,4500,5000,5500,6000,6500,7000,7500,8000,8500,9000,9500,10000],"tickSize":{"condition":{"test":"datum.value % 2000 === 0","value":-7},"value":-4}}},
      "y":{"field":"al","type":"quantitative","axis":{"orient":"left","title":null,"labels":false,"values":[0,0.05,0.1,0.15,0.2,0.25,0.3,0.35,0.4,0.45,0.5,0.55,0.6,0.65,0.7,0.75,0.8,0.85,0.9,0.95,1,1.05,1.1],"tickSize":{"condition":{"test":"abs(datum.value*5-round(datum.value*5))<0.001","value":-7},"value":-4}}},
      "color":{"field":"s","type":"nominal"}
     }},
    {"data":{"values":[{}]},"mark":{"type":"text","text":"α","fontSize":24,"fontStyle":"italic","align":"center","baseline":"middle"},
     "encoding":{"x":{"datum":8880,"type":"quantitative","axis":null},"y":{"datum":0.96,"type":"quantitative","axis":null}}}
   ],
   "resolve":{"axis":{"x":"independent","y":"independent"}}
  }
 ],"spacing":11,"bounds":"flush","resolve":{"scale":{"color":"independent"}}}
],
"spacing":22,
"resolve":{"scale":{"color":"independent"}}
}
